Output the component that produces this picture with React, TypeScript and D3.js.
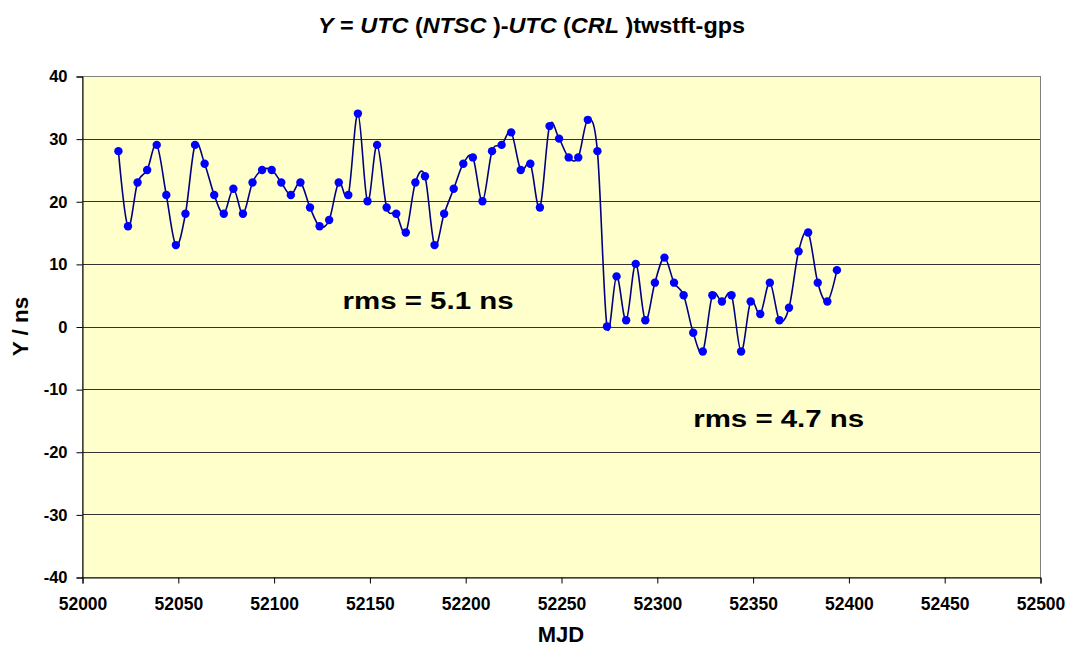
import React, { useEffect, useRef } from "react";
import * as d3 from "d3";

const mjd = [
  52019, 52024, 52029, 52034, 52039, 52044, 52049, 52054, 52059, 52064,
  52069, 52074, 52079, 52084, 52089, 52094, 52099, 52104, 52109, 52114,
  52119, 52124, 52129, 52134, 52139, 52144, 52149, 52154, 52159, 52164,
  52169, 52174, 52179, 52184, 52189, 52194, 52199, 52204, 52209, 52214,
  52219, 52224, 52229, 52234, 52239, 52244, 52249, 52254, 52259, 52264,
  52269, 52274, 52279, 52284, 52289, 52294, 52299, 52304, 52309, 52314,
  52319, 52324, 52329, 52334, 52339, 52344, 52349, 52354, 52359, 52364,
  52369, 52374, 52379, 52384, 52389, 52394,
];
const yValues = [
  28, 16, 23, 25, 29, 21, 13, 18, 29, 26,
  21, 18, 22, 18, 23, 25, 25, 23, 21, 23,
  19, 16, 17, 23, 21, 34, 20, 29, 19, 18,
  15, 23, 24, 13, 18, 22, 26, 27, 20, 28,
  29, 31, 25, 26, 19, 32, 30, 27, 27, 33,
  28, 0, 8, 1, 10, 1, 7, 11, 7, 5,
  -1, -4, 5, 4, 5, -4, 4, 2, 7, 1,
  3, 12, 15, 7, 4, 9,
];
const xTicks = [52000, 52050, 52100, 52150, 52200, 52250, 52300, 52350, 52400, 52450, 52500];
const yTicks = [-40, -30, -20, -10, 0, 10, 20, 30, 40];
const annotations = [
  { text: "rms = 5.1 ns", mjdAt: 52136, y: 2.8 },
  { text: "rms = 4.7 ns", mjdAt: 52319, y: -16 },
];

const W = 1066, H = 648;
const M = { left: 82, right: 1040, top: 76, bottom: 577 };
const FONT = "'Liberation Sans', Arial, sans-serif";

export default function App() {
  const ref = useRef<SVGSVGElement>(null);
  useEffect(() => {
    const svg = d3.select(ref.current);
    svg.selectAll("*").remove();
    const x = d3.scaleLinear().domain([52000, 52500]).range([M.left, M.right]);
    const y = d3.scaleLinear().domain([-40, 40]).range([M.bottom, M.top]);

    svg.append("rect").attr("x", 0).attr("y", 0).attr("width", W).attr("height", H).attr("fill", "#fff");
    svg.append("rect")
      .attr("x", M.left).attr("y", M.top)
      .attr("width", M.right - M.left).attr("height", M.bottom - M.top)
      .attr("fill", "#FFFFCC");

    // gridlines
    svg.append("g").selectAll("line").data(yTicks.filter(t => t > -40 && t < 40)).join("line")
      .attr("x1", M.left).attr("x2", M.right)
      .attr("y1", d => Math.round(y(d)) + 0.5).attr("y2", d => Math.round(y(d)) + 0.5)
      .attr("stroke", "#333").attr("stroke-width", 1.2);

    // plot border
    svg.append("rect")
      .attr("x", M.left + 0.5).attr("y", M.top + 0.5)
      .attr("width", M.right - M.left).attr("height", M.bottom - M.top)
      .attr("fill", "none").attr("stroke", "#808080").attr("stroke-width", 1);

    const fmt = (d: any) => String(d);

    // axes
    const xAxis = d3.axisBottom(x).tickValues(xTicks).tickSize(6).tickPadding(14).tickFormat(fmt);
    const gx = svg.append("g").attr("transform", `translate(0.5,${M.bottom + 0.5})`).call(xAxis);
    gx.select(".domain").attr("stroke", "#000");
    gx.selectAll(".tick line").attr("stroke", "#000");
    gx.selectAll("text").attr("font-family", FONT).attr("font-weight", "bold").attr("font-size", 17.5).attr("fill", "#000");

    const yAxis = d3.axisLeft(y).tickValues(yTicks).tickSize(6).tickPadding(9).tickFormat(fmt);
    const gy = svg.append("g").attr("transform", `translate(${M.left + 0.5},0.5)`).call(yAxis);
    gy.select(".domain").attr("stroke", "#000");
    gy.selectAll(".tick line").attr("stroke", "#000");
    gy.selectAll("text").attr("font-family", FONT).attr("font-weight", "bold").attr("font-size", 16.5).attr("fill", "#000");

    const pts = mjd.map((m, i) => [x(m), y(yValues[i])] as [number, number]);
    const line = d3.line().curve(d3.curveCatmullRom.alpha(0));
    svg.append("path").attr("d", line(pts))
      .attr("fill", "none").attr("stroke", "#000080").attr("stroke-width", 1.6);
    svg.append("g").selectAll("circle").data(pts).join("circle")
      .attr("cx", d => d[0]).attr("cy", d => d[1]).attr("r", 4.2)
      .attr("fill", "#0000FF");

    // annotations
    svg.append("g").selectAll("text").data(annotations).join("text")
      .attr("x", d => x(d.mjdAt)).attr("y", d => y(d.y))
      .attr("font-family", FONT).attr("font-weight", "bold").attr("font-size", 23)
      .attr("fill", "#000").attr("text-anchor", "start")
      .attr("textLength", 171).attr("lengthAdjust", "spacingAndGlyphs")
      .text(d => d.text);

    // axis titles
    svg.append("text").attr("x", (M.left + M.right) / 2).attr("y", 642)
      .attr("text-anchor", "middle").attr("font-family", FONT).attr("font-weight", "bold")
      .attr("font-size", 22).text("MJD");
    svg.append("text").attr("transform", `translate(28,${(M.top + M.bottom) / 2}) rotate(-90)`)
      .attr("text-anchor", "middle").attr("font-family", FONT).attr("font-weight", "bold")
      .attr("font-size", 22.5).text("Y / ns");

    // title
    const title = svg.append("text").attr("x", 318).attr("y", 33)
      .attr("text-anchor", "start").attr("font-family", FONT).attr("font-weight", "bold")
      .attr("font-size", 22).attr("fill", "#000")
      .attr("textLength", 427).attr("lengthAdjust", "spacingAndGlyphs");
    const parts: [string, boolean][] = [
      ["Y", true], [" = ", false], ["UTC", true], [" (", false], ["NTSC", true], [" )-", false],
      ["UTC", true], [" (", false], ["CRL", true], [" )twstft-gps", false],
    ];
    parts.forEach(([t, it]) => {
      title.append("tspan").attr("font-style", it ? "italic" : "normal").text(t);
    });
  }, []);
  return (
    <svg ref={ref} width={W} height={H}
      style={{ position: "absolute", left: 0, top: 0, display: "block" }} />
  );
}
